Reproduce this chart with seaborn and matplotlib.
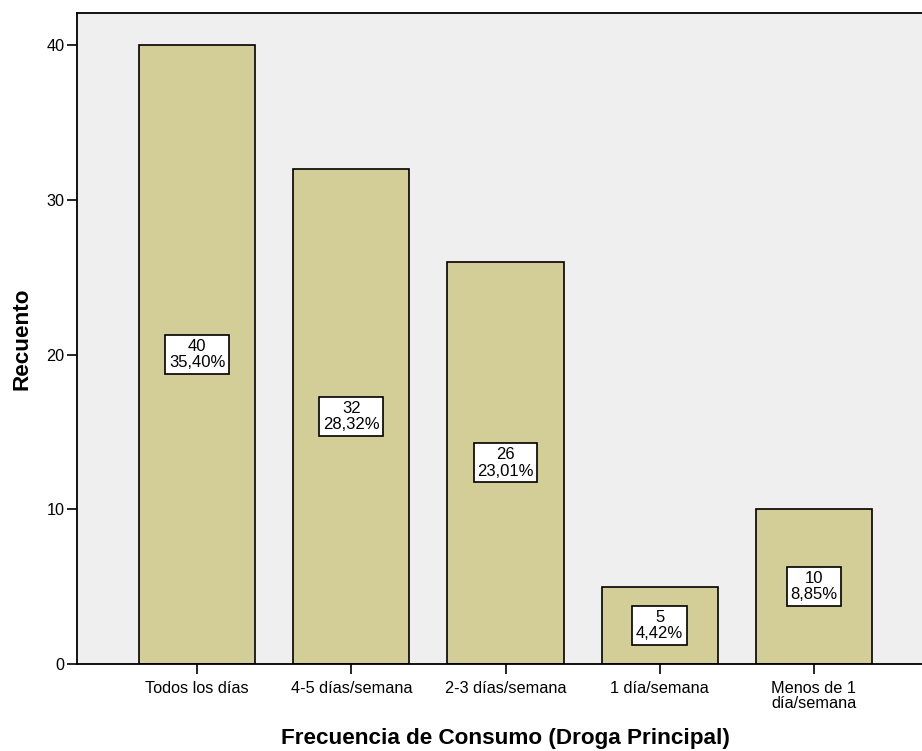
import matplotlib
matplotlib.use("Agg")
import matplotlib.pyplot as plt
import seaborn as sns
import pandas as pd

categories = ["Todos los días", "4-5 días/semana", "2-3 días/semana", "1 día/semana", "Menos de 1\ndía/semana"]
counts = [40, 32, 26, 5, 10]
percents = ["35,40%", "28,32%", "23,01%", "4,42%", "8,85%"]
y_ticks = [0, 10, 20, 30, 40]

sns.set_style("white")
plt.rcParams["font.family"] = ["Liberation Sans", "DejaVu Sans"]
plt.rcParams["text.color"] = "black"
plt.rcParams["axes.labelcolor"] = "black"
plt.rcParams["xtick.color"] = "black"
plt.rcParams["ytick.color"] = "black"

df = pd.DataFrame({"Frecuencia": categories, "Recuento": counts})

fig = plt.figure(figsize=(9.22, 7.51), dpi=100)
ax = fig.add_axes([77 / 922, (751 - 664) / 751, 857 / 922, (664 - 13) / 751])
ax.set_facecolor("#EFEFEF")

sns.barplot(data=df, x="Frecuencia", y="Recuento", color="#D3CE98", saturation=1,
            width=0.753, edgecolor="black", linewidth=1.2, ax=ax)

ax.set_xlim(-0.78, len(categories) - 1 + 0.78)
ax.set_ylim(0, 42.07)
ax.set_yticks(y_ticks)
ax.tick_params(axis="both", direction="out", length=7, width=1.2, color="black",
               labelcolor="black", labelsize=11.7, pad=2, left=True, bottom=True)
ax.tick_params(axis="x", pad=5)
for lbl in ax.get_xticklabels():
    lbl.set_linespacing(1.05)

for spine in ax.spines.values():
    spine.set_visible(True)
    spine.set_color("black")
    spine.set_linewidth(1.3)

ax.set_xlabel("Frecuencia de Consumo (Droga Principal)", fontsize=16.2, fontweight="bold",
              labelpad=12, color="black")
ax.set_ylabel("Recuento", fontsize=16.2, fontweight="bold", labelpad=10, color="black")

for i, (c, p) in enumerate(zip(counts, percents)):
    ax.text(i, c / 2, f"{c}\n{p}", ha="center", va="center", fontsize=12, linespacing=1.12,
            color="black",
            bbox=dict(boxstyle="square,pad=0.22", facecolor="white", edgecolor="black", linewidth=1.2))

fig.savefig("out.png", dpi=100)
